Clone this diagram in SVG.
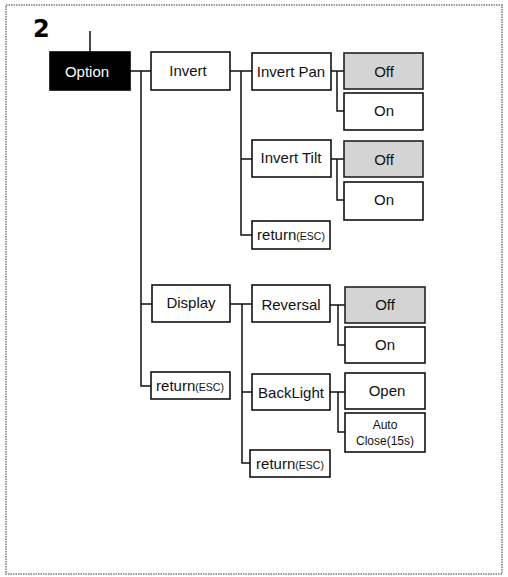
<svg xmlns="http://www.w3.org/2000/svg" width="508" height="577" viewBox="0 0 508 577">
<style>
.frame{fill:none;stroke:#9a9a9a;stroke-width:2;stroke-dasharray:1.5 1}
.box{fill:#fff;stroke:#111;stroke-width:1.6}
.sel{fill:#d4d4d4;stroke:#222;stroke-width:1.6}
.blk{fill:#000;stroke:#000;stroke-width:1.6}
.t{font-family:"Liberation Sans",Arial,sans-serif;font-size:15px;fill:#111;text-anchor:middle}
.w{fill:#fff}
.s{font-size:10.5px}
.sm{font-size:12px}
.c{fill:none;stroke:#111;stroke-width:1.5}
</style>
<rect class="frame" x="6" y="5" width="496" height="569"/>
<text x="33" y="37" font-family="DejaVu Sans,Liberation Sans,sans-serif" font-size="24" font-weight="bold" fill="#000">2</text>
<g id="connectors">
<path class="c" d="M90 31V52"/>
<path class="c" d="M130 71H151M141 71V386H151M141 304H152"/>
<path class="c" d="M230 71H252M241 71V235H252M241 159H252"/>
<path class="c" d="M331 71H344M337 71V111H344"/>
<path class="c" d="M331 159H344M337 159V200H344"/>
<path class="c" d="M230 304H252M242 304V463H250M242 392H252"/>
<path class="c" d="M330 305H345M338 305V345H345"/>
<path class="c" d="M330 392H345M338 392V432H345"/>
</g>
<g id="option"><rect class="blk" x="50" y="52" width="80" height="38"/><text class="t w" x="87" y="77">Option</text></g>
<g id="invert"><rect class="box" x="151" y="52" width="79" height="38"/><text class="t" x="188" y="76">Invert</text></g>
<g id="invertpan"><rect class="box" x="252" y="53" width="79" height="37"/><text class="t" x="291" y="77">Invert Pan</text></g>
<g id="pan-off"><rect class="sel" x="344" y="53" width="79" height="36"/><text class="t" x="384" y="77">Off</text></g>
<g id="pan-on"><rect class="box" x="344" y="93" width="79" height="37"/><text class="t" x="384" y="116">On</text></g>
<g id="inverttilt"><rect class="box" x="252" y="140" width="79" height="37"/><text class="t" x="291" y="163">Invert Tilt</text></g>
<g id="tilt-off"><rect class="sel" x="344" y="141" width="79" height="36"/><text class="t" x="384" y="165">Off</text></g>
<g id="tilt-on"><rect class="box" x="344" y="182" width="79" height="38"/><text class="t" x="384" y="205">On</text></g>
<g id="return1"><rect class="box" x="252" y="221" width="78" height="28"/><text class="t" x="291" y="240">return<tspan class="s">(ESC)</tspan></text></g>
<g id="display"><rect class="box" x="152" y="285" width="78" height="37"/><text class="t" x="191" y="308">Display</text></g>
<g id="reversal"><rect class="box" x="252" y="285" width="78" height="37"/><text class="t" x="291" y="310">Reversal</text></g>
<g id="rev-off"><rect class="sel" x="345" y="287" width="80" height="36"/><text class="t" x="385" y="310">Off</text></g>
<g id="rev-on"><rect class="box" x="345" y="327" width="80" height="36"/><text class="t" x="385" y="350">On</text></g>
<g id="return2"><rect class="box" x="151" y="372" width="79" height="27"/><text class="t" x="190" y="391">return<tspan class="s">(ESC)</tspan></text></g>
<g id="backlight"><rect class="box" x="252" y="374" width="78" height="36"/><text class="t" x="291" y="398">BackLight</text></g>
<g id="open"><rect class="box" x="345" y="373" width="80" height="36"/><text class="t" x="387" y="396">Open</text></g>
<g id="autoclose"><rect class="box" x="345" y="413" width="80" height="39"/><text class="t sm" x="385" y="429">Auto</text><text class="t sm" x="385" y="445">Close(15s)</text></g>
<g id="return3"><rect class="box" x="250" y="450" width="80" height="27"/><text class="t" x="290" y="469">return<tspan class="s">(ESC)</tspan></text></g>
</svg>
